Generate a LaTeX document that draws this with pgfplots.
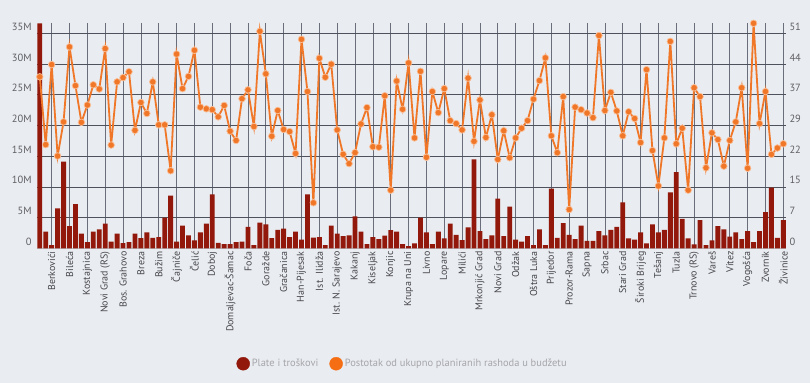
\documentclass[border=0pt]{standalone}
\usepackage{fontspec}
\setmainfont{PT Sans}
\usepackage{pgfplots}
\usepackage{pgfplotstable}
\pgfplotsset{compat=1.18}
\definecolor{bg}{RGB}{233,236,240}
\definecolor{barred}{RGB}{145,24,10}
\definecolor{lineor}{RGB}{240,118,40}
\definecolor{legor}{RGB}{245,110,20}
\definecolor{markedge}{RGB}{250,190,150}
\definecolor{gridh}{RGB}{78,82,92}
\definecolor{gridv}{RGB}{105,110,122}
\definecolor{axisc}{RGB}{190,192,198}
\definecolor{tickc}{RGB}{95,95,100}
\definecolor{xlabc}{RGB}{70,70,75}
\definecolor{legc}{RGB}{165,165,170}
\pgfplotstableread{
x bar pct
0 36.65 40.7
1 2.7 24.6
2 0.5 43.6
3 6.5 21.9
4 14.1 30.0
5 3.6 47.8
6 7.2 38.6
7 2.4 29.9
8 1.0 34.0
9 2.7 38.8
10 3.1 37.8
11 4.0 47.4
12 1.1 24.5
13 2.4 39.5
14 0.85 40.5
15 1.0 41.9
16 2.4 28.0
17 1.65 34.6
18 2.6 32.0
19 1.7 39.5
20 1.8 29.3
21 5.0 29.3
22 8.6 18.4
23 1.1 46.1
24 3.7 37.9
25 2.1 40.8
26 1.3 47.0
27 2.6 33.5
28 4.0 33.1
29 8.8 32.9
30 0.9 31.2
31 0.7 33.9
32 0.7 27.8
33 1.0 25.6
34 1.1 35.5
35 3.5 37.6
36 0.5 28.9
37 4.2 51.5
38 3.9 41.4
39 1.65 26.6
40 3.0 32.7
41 3.2 28.2
42 1.8 27.7
43 2.7 22.5
44 1.4 49.6
45 8.8 37.2
46 1.75 10.8
47 1.8 45.1
48 0.5 40.6
49 3.7 43.7
50 2.4 28.1
51 2.0 22.3
52 2.1 20.1
53 5.2 22.7
54 2.7 29.5
55 0.7 33.4
56 1.8 24.1
57 1.5 24.0
58 2.05 36.2
59 2.95 13.8
60 2.7 39.7
61 0.7 33.0
62 0.35 44.0
63 0.8 26.2
64 5.0 42.0
65 2.6 21.6
66 0.7 37.2
67 2.7 32.2
68 1.6 37.9
69 4.0 30.3
70 2.2 29.6
71 1.35 28.1
72 3.4 40.4
73 14.5 25.4
74 2.8 35.2
75 1.5 26.3
76 2.1 31.7
77 8.1 21.1
78 2.0 27.9
79 6.8 21.5
80 1.4 26.2
81 1.1 28.5
82 2.0 30.3
83 0.5 35.4
84 3.1 39.8
85 0.5 45.2
86 9.7 26.7
87 1.7 22.7
88 4.1 36.0
89 2.2 9.2
90 1.5 33.5
91 3.7 32.9
92 1.2 32.1
93 1.2 31.0
94 2.8 50.5
95 2.1 32.7
96 3.0 37.0
97 3.5 32.6
98 7.5 26.7
99 1.6 32.4
100 1.4 30.8
101 2.6 25.1
102 0.8 42.4
103 3.9 23.2
104 2.6 14.8
105 3.0 26.2
106 9.1 49.1
107 12.4 24.8
108 4.8 28.5
109 1.6 13.8
110 0.65 38.1
111 4.6 36.0
112 0.5 19.1
113 1.3 27.4
114 3.6 25.8
115 3.1 19.5
116 1.9 25.6
117 2.6 30.0
118 1.5 38.1
119 2.8 19.0
120 1.0 53.4
121 2.8 29.6
122 5.9 37.2
123 9.9 22.3
124 1.7 23.8
125 4.6 24.8
}\data
\begin{document}
\begin{tikzpicture}
\useasboundingbox (0,0) rectangle (810bp,383bp);
\fill[bg] (0,0) rectangle (810bp,383bp);
\begin{axis}[
  at={(36.8bp,134.7bp)}, anchor=south west,
  scale only axis, width=749.5bp, height=225bp,
  xmin=-0.5, xmax=125.5, ymin=0, ymax=36.65,
  axis x line*=bottom, axis y line*=left,
  x axis line style={draw=axisc, line width=0.8bp},
  y axis line style={draw=none},
  major tick length=0pt,
  xmajorgrids, ymajorgrids,
  major x grid style={gridv, line width=0.7bp},
  major y grid style={gridh, line width=0.7bp},
  ytick={0,5,10,15,20,25,30,35},
  yticklabels={0,5M,10M,15M,20M,25M,30M,35M},
  yticklabel style={anchor=base east, inner sep=0pt, xshift=-5bp, yshift=3bp, text=tickc, font=\fontsize{10.5}{12}\selectfont},
  xtick={2,5,...,125},
  xticklabels={Berkovići,Bileća,Kostajnica,Novi Grad (RS),Bos. Grahovo,Breza,Bužim,Čajniče,Čelić,Doboj,Domaljevac-Šamac,Foča,Goražde,Gračanica,Han-Pijesak,Ist. Ilidža,Ist. N. Sarajevo,Kakanj,Kiseljak,Konjic,Krupa na Uni,Livno,Lopare,Milići,Mrkonjić Grad,Novi Grad,Odžak,Oštra Luka,Prijedor,Prozor-Rama,Sapna,Srbac,Stari Grad,Široki Brijeg,Tešanj,Tuzla,Trnovo (RS),Vareš,Vitez,Vogošća,Zvornik,Živinice},
  xticklabel style={rotate=90, anchor=east, inner sep=3bp, text=xlabc, font=\fontsize{10}{12}\selectfont},
]
\addplot[ybar, bar width=0.82, fill=barred, draw=none] table[x=x, y=bar]{\data};
\end{axis}
\begin{axis}[
  at={(36.8bp,134.7bp)}, anchor=south west,
  scale only axis, width=749.5bp, height=225bp,
  xmin=-0.5, xmax=125.5, ymin=0, ymax=53.4,
  axis x line=none, axis y line*=right,
  y axis line style={draw=none},
  major tick length=0pt,
  clip=false,
  ytick={0,7.2857,14.5714,21.8571,29.1429,36.4286,43.7143,51},
  yticklabels={0,7,15,22,29,37,44,51},
  yticklabel style={anchor=base west, inner sep=0pt, xshift=3bp, yshift=3bp, text=tickc, font=\fontsize{10.5}{12}\selectfont},
  legend style={at={(0.488,-0.513)}, anchor=center, draw=none, fill=none,
    legend columns=2, font=\fontsize{10.5}{12}\selectfont, text=legc,
    /tikz/every even column/.append style={column sep=9bp},
    legend cell align=left},
]
\addlegendimage{legend image code/.code={\fill[barred] (4bp,0bp) circle (6.5bp);}}
\addlegendentry{Plate i troškovi}
\addlegendimage{legend image code/.code={\fill[legor] (4bp,0bp) circle (6.5bp);}}
\addlegendentry{Postotak od ukupno planiranih rashoda u budžetu}
\addplot[lineor, line width=1.8bp, mark=*, mark size=3.3bp,
  mark options={fill=lineor, draw=markedge, line width=0.7bp}, forget plot]
  table[x=x, y=pct]{\data};
\end{axis}
\end{tikzpicture}
\end{document}
